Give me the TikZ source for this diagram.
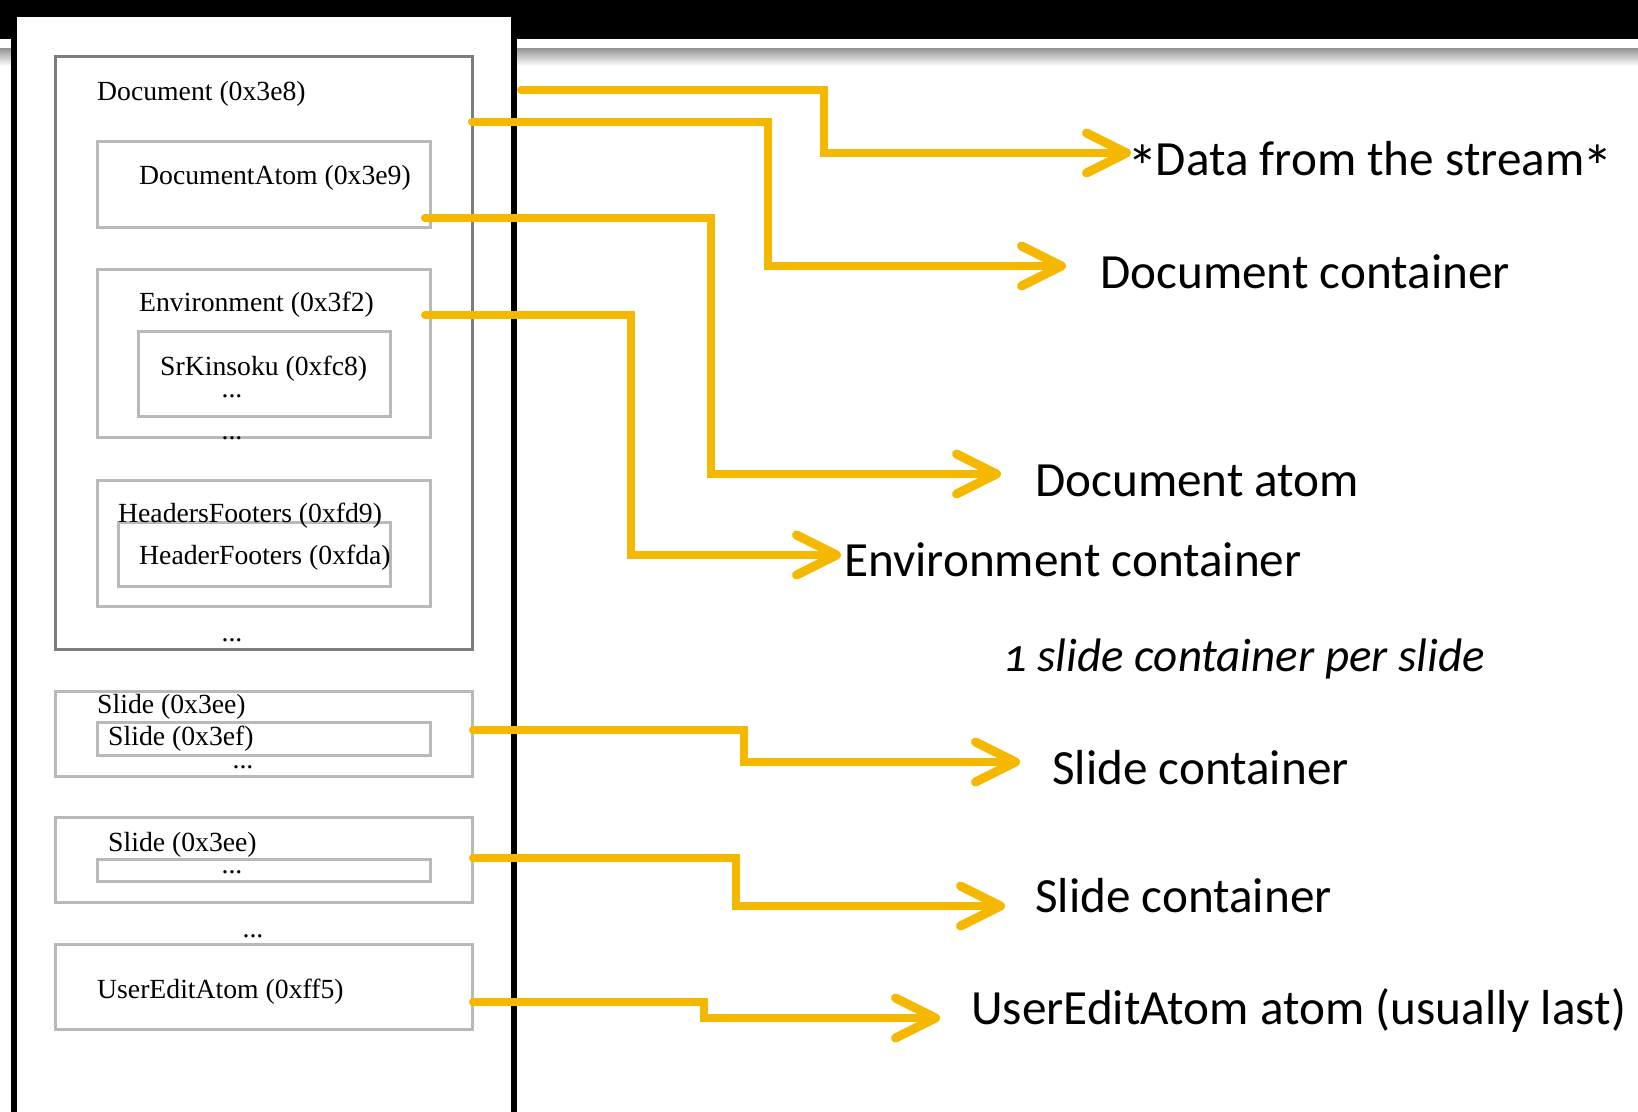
\documentclass[tikz,border=0pt]{standalone}
\usepackage{fontspec}
\setmainfont{Liberation Serif}
\newfontfamily\calib{Carlito}[Numbers=OldStyle]
\usetikzlibrary{arrows.meta}
\definecolor{amber}{RGB}{245,184,0}
\definecolor{rimgray}{RGB}{125,125,125}
\definecolor{boxgray}{RGB}{185,185,185}
\newcommand\astk{\raisebox{-13pt}{\scalebox{1.25}{*}}}
\tikzset{
  rec/.style={anchor=west, inner sep=0pt, text height=19pt, text depth=5.5pt,
              font=\fontsize{27.7}{30}\selectfont},
  dots/.style={anchor=base, inner sep=0pt, font=\fontsize{27.7}{30}\selectfont},
  lbl/.style={anchor=west, inner sep=0pt, text height=31pt, text depth=0pt,
              font=\calib\fontsize{49.2}{55}\selectfont},
  feed/.style={amber, line width=8pt, line cap=round, line join=miter,
               -{Straight Barb[length=40pt, width=40pt, line width=9pt, round]}},
}
\begin{document}
\begin{tikzpicture}[x=1pt, y=1pt]
  \useasboundingbox (0,0) rectangle (1638,1111);
  \clip (0,0) rectangle (1638,1111);
  \fill[black] (0,1072) rectangle (1638,1111);
  \shade[top color=black!40, bottom color=white] (0,1045) rectangle (1638,1062);
  \draw[line width=6pt, fill=white] (14,1097) rectangle (514,-40);

  \draw[rimgray, line width=3pt] (55,1054) rectangle (472,461);
  \draw[boxgray, line width=3pt]
        (97,969) rectangle (430,883)
        (97,841) rectangle (430,673)
        (138,779) rectangle (390,694)
        (97,630) rectangle (430,504)
        (118,588) rectangle (390,524)
        (55,419) rectangle (472,334)
        (97,388) rectangle (430,355)
        (55,293) rectangle (472,208)
        (97,251) rectangle (430,229)
        (55,166) rectangle (472,81);

  \draw (97,1017) node (doc) [rec] {Document (0x3e8)}
        (139,933) node (docatm) [rec] {DocumentAtom (0x3e9)}
        (139,806) node (env) [rec] {Environment (0x3f2)}
        (160,742) node (kins) [rec] {SrKinsoku (0xfc8)}
        (118,595) node (hfs) [rec] {HeadersFooters (0xfd9)}
        (139,553) node (hf) [rec] {HeaderFooters (0xfda)}
        (97,404) node (sld1) [rec] {Slide (0x3ee)}
        (108,372) node (sldin) [rec] {Slide (0x3ef)}
        (108,266) node (sld2) [rec] {Slide (0x3ee)}
        (97,119) node (uea) [rec] {UserEditAtom (0xff5)};
  \draw (232,713) node (d1) [dots] {...}
        (232,671) node (d2) [dots] {...}
        (232,469) node (d3) [dots] {...}
        (243,342) node (d4) [dots] {...}
        (232,237) node (d5) [dots] {...}
        (253,173) node (d6) [dots] {...};

  \draw (1127,951) node (data) [lbl] {\astk\kern-2pt Data from the stream\kern-2pt\astk}
        (1100,838) node (doccont) [lbl] {Document container}
        (1035,630) node (docatom) [lbl] {Document atom}
        (844,550) node (envcont) [lbl] {Environment container}
        (1003,455) node (perslide) [lbl, font=\calib\itshape\fontsize{47}{55}\selectfont]
              {1 slide container per slide}
        (1052,342) node (slidea) [lbl] {Slide container}
        (1035,214) node (slideb) [lbl] {Slide container}
        (971,102) node (usered) [lbl] {UserEditAtom atom (usually last)};

  \coordinate (s1) at (521,1021);
  \coordinate (s2) at (472,989);
  \coordinate (s3) at (425,893);
  \coordinate (s4) at (425,796);
  \coordinate (s5) at (473,381);
  \coordinate (s6) at (473,253);
  \coordinate (s7) at (473,109);
  \draw[feed, shorten >=-4pt] (s1) -- ++(303,0) |- ([yshift=7pt]data.west);
  \draw[feed, shorten >=34pt] (s2) -- ++(296,0) |- ([yshift=7pt]doccont.west);
  \draw[feed, shorten >=34pt] (s3) -- ++(286,0) |- ([yshift=7pt]docatom.west);
  \draw[feed, shorten >=3pt] (s4) -- ++(206,0) |- ([yshift=6pt]envcont.west);
  \draw[feed, shorten >=32pt] (s5) -- ++(271,0) |- ([yshift=7pt]slidea.west);
  \draw[feed, shorten >=30pt] (s6) -- ++(263,0) |- ([yshift=-9pt]slideb.west);
  \draw[feed, shorten >=31pt] (s7) -- ++(231,0) |- ([yshift=-9pt]usered.west);
\end{tikzpicture}
\end{document}
